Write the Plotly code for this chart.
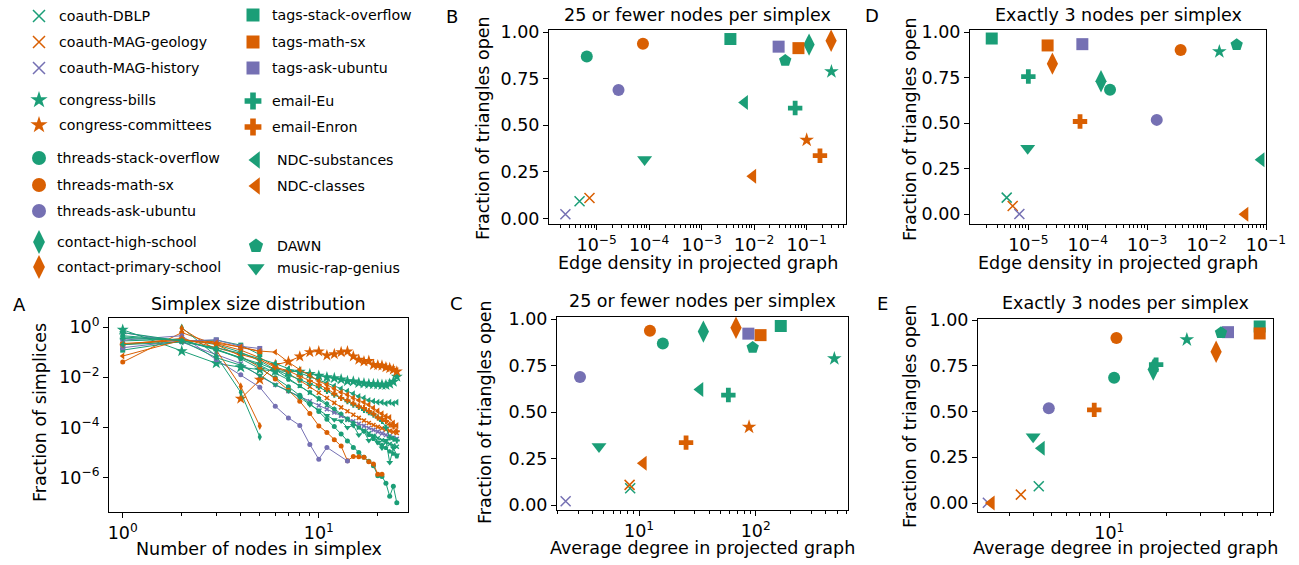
import plotly.graph_objects as go

W, H = 1299, 565
GREEN, ORANGE, PURPLE = "#1b9e77", "#d95f02", "#7570b3"
FONT = "DejaVu Sans"
FS = 17.5

# ---------------- data ----------------
datasets = ["coauth-DBLP", "coauth-MAG-geology", "coauth-MAG-history",
            "congress-bills", "congress-committees",
            "threads-stack-overflow", "threads-math-sx", "threads-ask-ubuntu",
            "contact-high-school", "contact-primary-school",
            "tags-stack-overflow", "tags-math-sx", "tags-ask-ubuntu",
            "email-Eu", "email-Enron", "NDC-substances", "NDC-classes",
            "DAWN", "music-rap-genius"]

# Panel B / C : 25 or fewer nodes per simplex
open_25 = [0.092, 0.11, 0.022, 0.789, 0.421, 0.870, 0.939, 0.690, 0.934, 0.955,
           0.964, 0.915, 0.923, 0.593, 0.337, 0.623, 0.226, 0.848, 0.316]
density_25 = [4.71e-6, 7.28e-6, 2.53e-6, 0.296, 0.100, 6.47e-6, 7.60e-5, 2.60e-5,
              0.111, 0.292, 3.52e-3, 0.0697, 0.0292, 0.0603, 0.179, 6.58e-3,
              9.44e-3, 0.039, 8.17e-5]
degree_25 = [8.4, 8.3, 2.35, 472, 87.7, 16.0, 12.4, 3.12, 35.6, 67.8,
             164, 110, 86.5, 58.3, 25.3, 33.3, 10.9, 94.2, 4.54]

# Panel D / E : exactly 3 nodes per simplex (congress-committees absent)
open_3 = [0.092, 0.046, 0.002, 0.894, None, 0.685, 0.903, 0.519, 0.731, 0.828,
          0.966, 0.928, 0.935, 0.757, 0.510, 0.300, 0.0, 0.932, 0.363]
density_3 = [4.32e-6, 5.45e-6, 7.06e-6, 0.0164, None, 2.37e-4, 3.66e-3, 1.45e-3,
             1.67e-4, 2.54e-5, 2.42e-6, 2.11e-5, 8.11e-5, 1.0e-5, 7.41e-5, 0.083,
             0.0444, 0.0321, 9.75e-6]
degree_3 = [4.27, 3.44, 2.31, 25.5, None, 10.6, 10.9, 4.82, 17.0, 36.3,
            61.4, 61.4, 41.9, 17.6, 8.34, 4.41, 2.41, 38.5, 3.99]

# Panel A : simplex size distribution
simplex_sizes = [1, 2, 3, 4, 5, 6, 7, 8, 9, 10, 11, 12, 13, 14, 15, 16, 17, 18, 19, 20, 21, 22, 23, 24, 25]
A_coauth_DBLP = [0.28, 0.33, 0.20, 0.10, 0.045, 0.02, 0.009, 0.0045, 0.0024, 0.0013, 7.5e-4, 4.6e-4, 3.0e-4,
                 2.0e-4, 1.4e-4, 1.0e-4, 7.5e-5, 5.8e-5, 4.6e-5, 3.7e-5, 3.1e-5, 2.6e-5, 2.2e-5, 1.9e-5, 1.7e-5]
A_coauth_MAG_geology = [0.22, 0.30, 0.22, 0.12, 0.06, 0.028, 0.014, 0.0075, 0.0042, 0.0024, 0.0015, 9.5e-4, 6.3e-4,
                        4.4e-4, 3.2e-4, 2.4e-4, 1.9e-4, 1.5e-4, 1.25e-4, 1.05e-4, 9.2e-5, 8.2e-5, 7.3e-5, 6.6e-5, 6.0e-5]
A_coauth_MAG_history = [0.6, 0.25, 0.08, 0.035, 0.011, 0.005, 0.0028, 0.0017, 0.0011, 7.5e-4, 5.3e-4, 3.9e-4, 2.9e-4,
                        2.2e-4, 1.75e-4, 1.4e-4, 1.15e-4, 9.5e-5, 8.0e-5, 6.8e-5, 5.8e-5, 5.0e-5, 4.4e-5, 3.9e-5, 3.5e-5]
A_congress_bills = [0.78, 0.11, 0.036, 0.025, 0.02, 0.018, 0.017, 0.0166, 0.0135, 0.0115, 0.0100, 0.0092, 0.0082,
                    0.0070, 0.0068, 0.0060, 0.0057, 0.0054, 0.0053, 0.0052, 0.0050, 0.0049, 0.0055, 0.0066, 0.0105]
A_congress_committees = [None, None, None, 0.0014, 0.008, 0.031, 0.042, 0.067, 0.10, 0.107, 0.074, 0.083, 0.10,
                         0.107, 0.068, 0.05, 0.043, 0.045, 0.031, 0.03, 0.029, 0.025, 0.023, 0.02, 0.017]
A_threads_stack_overflow = [0.45, 0.3, 0.13, 0.055, 0.022, 0.0095, 0.0042, 0.0019, 9e-4, 4.3e-4, 2.1e-4, 1.1e-4,
                            5.5e-5, 2.9e-5, 1.6e-5, 1.0e-5, 6.5e-6, 4.5e-6, 3.0e-6, 1.2e-6, 1.1e-6, 6e-7, 1.8e-7,
                            4.5e-7, 1.0e-7]
A_threads_math_sx = [0.04, 0.6, 0.2, 0.07, 0.025, 0.0085, 0.003, 0.0011, 3.6e-4, 1.15e-4, 6.3e-5, 3.2e-5, 1.8e-5,
                     4.7e-6, 7e-6, 6.8e-6, 6.5e-6, 4.3e-6, 3.5e-6, 1.35e-6, 1.35e-6, None, None, None, None]
A_threads_ask_ubuntu = [0.3, 0.45, 0.05, 0.0125, 0.004, 7e-4, 2.4e-4, 1.2e-4, 2.1e-5, 5.4e-6, 1.6e-5, None, None,
                        4.6e-6, None, None, None, None, None, None, None, None, None, None, None]
A_contact_high_school = [None, 0.95, 0.07, 0.0025, 4.2e-5] + [None] * 20
A_contact_primary_school = [None, 0.88, 0.12, 0.0043, 1.15e-4] + [None] * 20
A_tags_stack_overflow = [0.12, 0.27, 0.30, 0.19, 0.08] + [None] * 20
A_tags_math_sx = [0.2, 0.3, 0.26, 0.15, 0.105] + [None] * 20
A_tags_ask_ubuntu = [0.15, 0.28, 0.31, 0.17, 0.14] + [None] * 20
A_email_Eu = [0.35, 0.3, 0.12, 0.06, 0.035, 0.02, 0.012, 0.008, 0.0055, 0.004, 0.0028, 0.002, 0.0015, 0.0011,
              8e-4, 6.5e-4, 5e-4, 4e-4, 3.2e-4, 2.5e-4, 1.8e-4, 1.0e-4, 4e-5, 3.5e-5, 3e-5]
A_email_Enron = [0.2, 0.35, 0.15, 0.08, 0.05, 0.025, 0.018, 0.011, 0.007, 0.005, 0.0035, 0.0022, 0.0015, 0.0012,
                 9e-4, 7e-4, 6e-4, 4.5e-4, 3.5e-4, 2.5e-4, 2.2e-4, 1.8e-4, 1.3e-4, 1.1e-4, 7e-5]
A_NDC_substances = [0.2, 0.25, 0.15, 0.09, 0.055, 0.035, 0.022, 0.015, 0.011, 0.008, 0.006, 0.0045, 0.0035, 0.0028,
                    0.0022, 0.0017, 0.0015, 0.0012, 0.0011, 0.001, 0.001, 9e-4, 1e-3, 9e-4, 1e-3]
A_NDC_classes = [0.07, 0.3, 0.23, 0.16, 0.11, 0.1, 0.04, 0.02, 0.012, 0.007, 0.005, 0.0035, 0.0025, 0.002, 0.0015,
                 0.0012, 0.001, 8e-4, 6e-4, 4.5e-4, 3.5e-4, 2.8e-4, 2.5e-4, 1.5e-4, 1.2e-4]
A_DAWN = [0.4, 0.3, 0.13, 0.06, 0.03, 0.015, 0.008, 0.0045, 0.0025, 0.0015, 9e-4, 5.5e-4, 3.5e-4, 2.2e-4, 1.5e-4,
          1e-4, 7e-5, 5e-5, 3.5e-5, 2.5e-5, 2e-5, 1.5e-5, 1.1e-5, 9e-6, 7e-6]
A_music_rap_genius = [0.6, 0.28, 0.06, 0.03, 0.012, 0.005, 0.0028, 0.0016, 8e-4, 5e-4, 3e-4, 2e-4, 1.8e-4, 1e-4,
                      1.2e-4, 5e-5, 7e-5, 3e-5, 4.5e-5, 2.5e-5, 1.5e-5, 3e-5, 4e-6, 1.5e-5, 8e-6]

A_series = [A_coauth_DBLP, A_coauth_MAG_geology, A_coauth_MAG_history, A_congress_bills, A_congress_committees,
            A_threads_stack_overflow, A_threads_math_sx, A_threads_ask_ubuntu, A_contact_high_school,
            A_contact_primary_school, A_tags_stack_overflow, A_tags_math_sx, A_tags_ask_ubuntu, A_email_Eu,
            A_email_Enron, A_NDC_substances, A_NDC_classes, A_DAWN, A_music_rap_genius]

# ---------------- style ----------------
colors = [GREEN, ORANGE, PURPLE, GREEN, ORANGE, GREEN, ORANGE, PURPLE, GREEN, ORANGE,
          GREEN, ORANGE, PURPLE, GREEN, ORANGE, GREEN, ORANGE, GREEN, GREEN]
symbols = ["x-thin", "x-thin", "x-thin", "star", "star", "circle", "circle", "circle",
           "diamond-tall", "diamond-tall", "square", "square", "square", "cross", "cross",
           "triangle-left", "triangle-left", "pentagon", "triangle-down"]
msize = {"x-thin": 10, "star": 11, "circle": 12, "diamond-tall": 16, "square": 12,
         "cross": 12, "triangle-left": 13, "pentagon": 13, "triangle-down": 13}
asize = {"x-thin": 4, "star": 9, "circle": 5, "diamond-tall": 6, "square": 5,
         "cross": 5, "triangle-left": 6, "pentagon": 5, "triangle-down": 6}


def marker(i, size):
    s = symbols[i]
    if s == "x-thin":
        return dict(symbol=s, size=size, color=colors[i], line=dict(color=colors[i], width=1.5))
    return dict(symbol=s, size=size, color=colors[i], line=dict(width=0))


def px(x):
    return x / W


def py(y):
    return 1 - y / H


fig = go.Figure()

# Panel A lines
for i, vals in enumerate(A_series):
    fig.add_trace(go.Scatter(x=simplex_sizes, y=vals, mode="lines+markers", connectgaps=True,
                             line=dict(color=colors[i], width=1), marker=marker(i, asize[symbols[i]]),
                             xaxis="x", yaxis="y", showlegend=False, hoverinfo="skip"))

# Scatter panels
panels = [("x2", "y2", density_25, open_25), ("x3", "y3", degree_25, open_25),
          ("x4", "y4", density_3, open_3), ("x5", "y5", degree_3, open_3)]
for xa, ya, xs, ys in panels:
    for i in range(len(datasets)):
        if xs[i] is None or ys[i] is None:
            continue
        fig.add_trace(go.Scatter(x=[xs[i]], y=[ys[i]], mode="markers", marker=marker(i, msize[symbols[i]]),
                                 xaxis=xa, yaxis=ya, showlegend=False, name=datasets[i]))

# Legend block (own invisible axis in pixel units)
leg_rows_1 = [16, 42, 68, 100, 125, 158, 185, 211, 242, 267]
leg_rows_2 = [15, 42, 68, 101, 127, 160, 186, 246, 268]
leg_mx = [39] * 10 + [253] * 5 + [256] * 4
leg_tx = [57, 57, 57, 57, 57, 55, 55, 55, 55, 55, 270, 270, 270, 270, 270, 275, 275, 275, 275]
leg_ty = leg_rows_1 + leg_rows_2
leg_size = {"x-thin": 12, "star": 13, "circle": 14, "diamond-tall": 17, "square": 13,
            "cross": 14, "triangle-left": 15, "pentagon": 15, "triangle-down": 15}
for i, name in enumerate(datasets):
    fig.add_trace(go.Scatter(x=[leg_mx[i]], y=[leg_ty[i]], mode="markers", marker=marker(i, leg_size[symbols[i]]),
                             xaxis="x6", yaxis="y6", showlegend=False, hoverinfo="skip", cliponaxis=False))

annotations = []
for i, name in enumerate(datasets):
    annotations.append(dict(x=leg_tx[i], y=leg_ty[i], xref="x6", yref="y6", text=name, showarrow=False,
                            xanchor="left", yanchor="middle", font=dict(size=14.2, color="black", family=FONT)))

# ---------------- axes ----------------
boxes = {  # left, right, top, bottom in px
    "A": (109, 408, 318, 512),
    "B": (549, 846, 30, 224),
    "C": (557, 848, 317, 510),
    "D": (970, 1266, 30, 224),
    "E": (978, 1273, 319, 512),
}


def sup(e):
    s = str(e).replace("-", "\u2212")
    return "10<sup>" + s + "</sup>"


def minor_vals(e0, e1):
    return [k * 10 ** e for e in range(e0, e1) for k in range(2, 10)]


common = dict(showline=True, mirror=True, linecolor="black", linewidth=1, ticks="outside", ticklen=5,
              tickwidth=1, tickcolor="black", showgrid=False, zeroline=False, automargin=False,
              tickfont=dict(size=FS, color="black", family=FONT))


def xax(box, rng, tv, anchor, minor=None):
    l, r, t, b = box
    d = dict(common, domain=[px(l), px(r)], type="log", range=rng, tickmode="array",
             tickvals=[10 ** e for e in tv], ticktext=[sup(e) for e in tv], anchor=anchor)
    if minor:
        d["minor"] = dict(ticks="outside", ticklen=3, tickwidth=1, tickcolor="black", tickmode="array",
                          tickvals=minor, showgrid=False)
    return d


def yax_lin(box, rng, anchor):
    l, r, t, b = box
    return dict(common, domain=[py(b), py(t)], range=rng, tickmode="array",
                tickvals=[0, 0.25, 0.5, 0.75, 1.0], ticktext=["0.00", "0.25", "0.50", "0.75", "1.00"],
                anchor=anchor)


lay = dict(
    width=W, height=H, margin=dict(l=0, r=0, t=0, b=0, pad=0, autoexpand=False),
    paper_bgcolor="white", plot_bgcolor="rgba(0,0,0,0)",
    font=dict(family=FONT, size=FS, color="black"),
    showlegend=False,
)
# A
lay["xaxis"] = xax(boxes["A"], [-0.07, 1.455], [0, 1], "y", minor_vals(0, 2))
la, ra, ta, ba = boxes["A"]
lay["yaxis"] = dict(common, domain=[py(ba), py(ta)], type="log", range=[-7.37, 0.36], tickmode="array",
                    tickvals=[1, 1e-2, 1e-4, 1e-6], ticktext=[sup(0), sup(-2), sup(-4), sup(-6)], anchor="x")
# B
lay["xaxis2"] = xax(boxes["B"], [-5.909, -0.251], [-5, -4, -3, -2, -1], "y2", minor_vals(-6, 0))
lay["yaxis2"] = yax_lin(boxes["B"], [-0.030, 1.0125], "x2")
# C
lay["xaxis3"] = xax(boxes["C"], [0.297, 2.791], [1, 2], "y3", minor_vals(0, 3))
lay["yaxis3"] = yax_lin(boxes["C"], [-0.025, 1.0125], "x3")
# D
lay["xaxis4"] = xax(boxes["D"], [-5.982, -1.0], [-5, -4, -3, -2, -1], "y4", minor_vals(-6, -1))
lay["yaxis4"] = yax_lin(boxes["D"], [-0.053, 1.0128], "x4")
# E
lay["xaxis5"] = xax(boxes["E"], [0.312, 1.858], [1], "y5", minor_vals(0, 2))
lay["yaxis5"] = yax_lin(boxes["E"], [-0.049, 1.007], "x5")
# legend axis
lay["xaxis6"] = dict(domain=[0, px(420)], range=[0, 420], visible=False, anchor="y6", fixedrange=True,
                     automargin=False)
lay["yaxis6"] = dict(domain=[py(282), 1], range=[282, 0], visible=False, anchor="x6", fixedrange=True,
                     automargin=False)


def ann(x, y, text, size=FS, angle=0):
    return dict(x=px(x), y=py(y), xref="paper", yref="paper", text=text, showarrow=False,
                xanchor="center", yanchor="middle", textangle=angle,
                font=dict(size=size, color="black", family=FONT))


annotations += [
    ann(258.5, 304, "Simplex size distribution"),
    ann(697.5, 15, "25 or fewer nodes per simplex"),
    ann(702.5, 301, "25 or fewer nodes per simplex"),
    ann(1118, 15, "Exactly 3 nodes per simplex"),
    ann(1125.5, 303, "Exactly 3 nodes per simplex"),
    ann(258.5, 549, "Number of nodes in simplex"),
    ann(697.5, 263, "Edge density in projected graph"),
    ann(702.5, 548, "Average degree in projected graph"),
    ann(1118, 263, "Edge density in projected graph"),
    ann(1125.5, 548, "Average degree in projected graph"),
    ann(40, 413, "Fraction of simplices", angle=-90),
    ann(483, 128, "Fraction of triangles open", angle=-90),
    ann(485, 412, "Fraction of triangles open", angle=-90),
    ann(910, 129, "Fraction of triangles open", angle=-90),
    ann(910, 416, "Fraction of triangles open", angle=-90),
    ann(19, 304, "A", size=18),
    ann(452, 16, "B", size=18),
    ann(456, 303, "C", size=18),
    ann(872, 15, "D", size=18),
    ann(882, 303, "E", size=18),
]
lay["annotations"] = annotations
fig.update_layout(**lay)
fig.write_html("out.html", config={"displayModeBar": False},
               post_script="document.body.style.margin='0px';document.body.style.overflow='hidden';")
